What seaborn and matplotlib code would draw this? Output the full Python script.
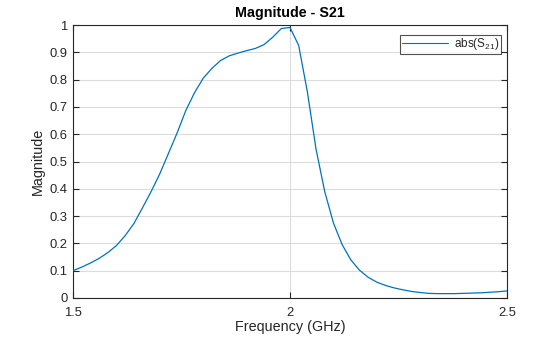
import numpy as np
import pandas as pd
import matplotlib
matplotlib.use("Agg")
import matplotlib.pyplot as plt
import seaborn as sns

freq_ghz = [1.50, 1.52, 1.54, 1.56, 1.58, 1.60, 1.62, 1.64, 1.66, 1.68,
            1.70, 1.72, 1.74, 1.76, 1.78, 1.80, 1.82, 1.84, 1.86, 1.88,
            1.90, 1.92, 1.94, 1.96, 1.98, 2.00, 2.02, 2.04, 2.06, 2.08,
            2.10, 2.12, 2.14, 2.16, 2.18, 2.20, 2.22, 2.24, 2.26, 2.28,
            2.30, 2.32, 2.34, 2.36, 2.38, 2.40, 2.42, 2.44, 2.46, 2.48,
            2.50]
magnitude = [0.100, 0.113, 0.128, 0.145, 0.166, 0.192, 0.228, 0.272, 0.330, 0.390,
             0.455, 0.530, 0.605, 0.687, 0.752, 0.805, 0.841, 0.870, 0.887, 0.897,
             0.906, 0.914, 0.928, 0.955, 0.987, 0.991, 0.925, 0.755, 0.545, 0.390,
             0.275, 0.196, 0.140, 0.102, 0.076, 0.058, 0.046, 0.037, 0.030, 0.024,
             0.020, 0.017, 0.016, 0.016, 0.016, 0.017, 0.018, 0.019, 0.021, 0.023,
             0.026]
x_ticks = [1.5, 2.0, 2.5]
x_tick_labels = ["1.5", "2", "2.5"]
y_ticks = [0, 0.1, 0.2, 0.3, 0.4, 0.5, 0.6, 0.7, 0.8, 0.9, 1.0]
y_tick_labels = ["0", "0.1", "0.2", "0.3", "0.4", "0.5", "0.6", "0.7", "0.8", "0.9", "1"]
series_label = "abs(S$_{21}$)"
title_text = "Magnitude - S21"
x_label = "Frequency (GHz)"
y_label = "Magnitude"

sns.set_style("white")
plt.rcParams["font.family"] = ["Liberation Sans", "DejaVu Sans"]
plt.rcParams["mathtext.default"] = "regular"

axc = "#262626"
df = pd.DataFrame({"f": freq_ghz, "m": magnitude, "s": series_label})

fig = plt.figure(figsize=(5.6, 3.37), dpi=100)
ax = fig.add_axes([73/560, 39/337, 434/560, 273/337])

sns.lineplot(data=df, x="f", y="m", hue="s", palette=["#0072BD"],
             linewidth=0.9, ax=ax, zorder=3)

ax.set_xlim(1.5, 2.5)
ax.set_ylim(0, 1)
ax.set_xticks(x_ticks)
ax.set_xticklabels(x_tick_labels)
ax.set_yticks(y_ticks)
ax.set_yticklabels(y_tick_labels)
ax.grid(True, color="#dcdcdc", linewidth=0.8)
ax.set_axisbelow(True)
for sp in ax.spines.values():
    sp.set_visible(True)
    sp.set_color(axc)
    sp.set_linewidth(0.8)
ax.tick_params(direction="in", length=4, width=0.8, colors=axc, labelsize=9.4,
               top=True, right=True, left=True, bottom=True)
ax.tick_params(axis="x", pad=6.2)
ax.tick_params(axis="y", pad=4)
ax.set_xlabel(x_label, fontsize=10.4, color=axc, labelpad=1)
ax.set_ylabel(y_label, fontsize=10.4, color=axc, labelpad=3.5)
ax.set_title(title_text, fontsize=10.3, fontweight="bold", color="black", pad=5.5)

leg = ax.legend(loc="upper right", bbox_to_anchor=(428/434, 263/273),
                fontsize=8.5, frameon=True, fancybox=False,
                handlelength=3.9, borderpad=0.12, borderaxespad=0,
                handletextpad=0.55)
leg.get_frame().set_edgecolor(axc)
leg.get_frame().set_linewidth(0.8)
for h in leg.get_lines():
    h.set_linewidth(0.8)

fig.savefig("out.png", dpi=100)
